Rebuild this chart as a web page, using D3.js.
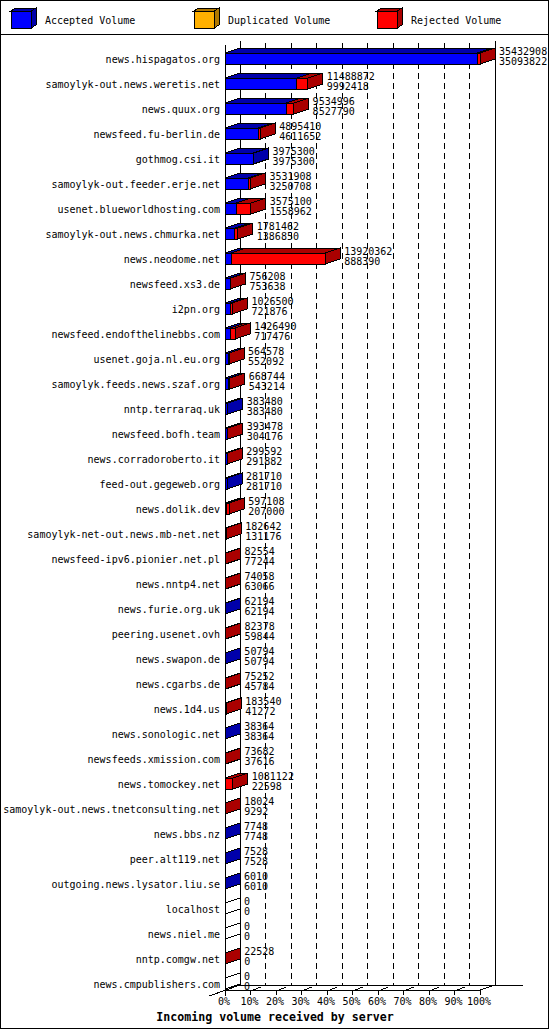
<!DOCTYPE html>
<html>
<head>
<meta charset="utf-8">
<script src="https://cdn.jsdelivr.net/npm/d3@7"></script>
<style>
  body { margin: 0; background: #fff; }
  svg { display: block; }
  text { font-family: "DejaVu Sans Mono", "Liberation Mono", monospace; font-size: 10px; fill: #000; }
</style>
</head>
<body>
<script>
// data
var hosts = [
    'news.hispagatos.org', 'samoylyk-out.news.weretis.net', 'news.quux.org',
    'newsfeed.fu-berlin.de', 'gothmog.csi.it', 'samoylyk-out.feeder.erje.net',
    'usenet.blueworldhosting.com', 'samoylyk-out.news.chmurka.net', 'news.neodome.net',
    'newsfeed.xs3.de', 'i2pn.org', 'newsfeed.endofthelinebbs.com',
    'usenet.goja.nl.eu.org', 'samoylyk.feeds.news.szaf.org', 'nntp.terraraq.uk',
    'newsfeed.bofh.team', 'news.corradoroberto.it', 'feed-out.gegeweb.org',
    'news.dolik.dev', 'samoylyk-net-out.news.mb-net.net', 'newsfeed-ipv6.pionier.net.pl',
    'news.nntp4.net', 'news.furie.org.uk', 'peering.usenet.ovh',
    'news.swapon.de', 'news.cgarbs.de', 'news.1d4.us',
    'news.sonologic.net', 'newsfeeds.xmission.com', 'news.tomockey.net',
    'samoylyk-out.news.tnetconsulting.net', 'news.bbs.nz', 'peer.alt119.net',
    'outgoing.news.lysator.liu.se', 'localhost', 'news.niel.me',
    'nntp.comgw.net', 'news.cmpublishers.com'
];
var totals = [
    35432908, 11488872, 9534996, 4895410, 3975300, 3531908, 3575100, 1781462,
    13920362, 756208, 1026500, 1426490, 564578, 668744, 383480, 393478,
    299592, 281710, 597108, 182642, 82554, 74058, 62194, 82378,
    50794, 75252, 183540, 38364, 73682, 1081122, 18024, 7748,
    7528, 6010, 0, 0, 22528, 0
];
var accepted = [
    35093822, 9992418, 8527790, 4611652, 3975300, 3250708, 1558962, 1386850,
    888390, 753638, 721876, 717476, 552092, 543214, 383480, 304176,
    291882, 281710, 207000, 131176, 77244, 63066, 62194, 59844,
    50794, 45784, 41272, 38364, 37616, 22598, 9292, 7748,
    7528, 6010, 0, 0, 0, 0
];
var duplicated = [
    0, 0, 0, 0, 0, 0, 0, 0, 0, 0, 0, 0, 0, 0, 0, 0, 0, 0, 0,
    0, 0, 0, 0, 0, 0, 0, 0, 0, 0, 0, 0, 0, 0, 0, 0, 0, 0, 0
];
var tickLabels = ['0%', '10%', '20%', '30%', '40%', '50%', '60%', '70%', '80%', '90%', '100%'];
var legendLabels = ['Accepted Volume', 'Duplicated Volume', 'Rejected Volume'];
var faceColors = ['#0000ff', '#ffb000', '#ff0000'];
var shadeColors = ['#0000aa', '#b07800', '#aa0000'];
var title = 'Incoming volume received by server';

var W = 550, H = 1030,
    DX = 15, DY = 5,
    left = 225, right = 480,
    wallTop = 41, floorBack = 985, floorFront = 990;

var svg = d3.select('body').append('svg')
    .attr('width', W)
    .attr('height', H)
    .attr('shape-rendering', 'crispEdges');

var x = d3.scaleLinear().domain([0, d3.max(totals)]).range([left, right]),
    pct = d3.scaleLinear().domain([0, tickLabels.length - 1]).range([left, right]),
    y = d3.scalePoint().domain(hosts).range([59, 984]);

function poly(pts) {
    return pts.map(function (p) { return p.join(','); }).join(' ');
}

// frame + legend separator
svg.append('rect')
    .attr('x', 0.5).attr('y', 0.5)
    .attr('width', W - 2).attr('height', H - 2)
    .attr('fill', 'none').attr('stroke', '#000');
svg.append('line')
    .attr('x1', 0).attr('x2', W - 1)
    .attr('y1', 34.5).attr('y2', 34.5)
    .attr('stroke', '#000');

// legend boxes
var leg = svg.selectAll('g.legend')
    .data(legendLabels)
    .join('g')
    .attr('class', 'legend')
    .attr('transform', function (d, i) { return 'translate(' + (11 + 183 * i) + ',0)'; });
leg.append('polygon')
    .attr('points', poly([[0, 11], [5, 8], [25, 8], [20, 11]]))
    .attr('fill', function (d, i) { return shadeColors[i]; })
    .attr('stroke', '#000');
leg.append('polygon')
    .attr('points', poly([[20, 11], [25, 8], [25, 25], [20, 28]]))
    .attr('fill', function (d, i) { return shadeColors[i]; })
    .attr('stroke', '#000');
leg.append('rect')
    .attr('x', 0).attr('y', 11)
    .attr('width', 20).attr('height', 17)
    .attr('fill', function (d, i) { return faceColors[i]; })
    .attr('stroke', '#000');
leg.append('text')
    .attr('x', 34).attr('y', 24)
    .text(function (d) { return d; });

// back wall + dashed grid
var grid = svg.append('g').attr('stroke', '#000');
grid.selectAll('line.grid')
    .data(d3.range(1, tickLabels.length - 1))
    .join('line')
    .attr('x1', function (k) { return pct(k) + DX; })
    .attr('x2', function (k) { return pct(k) + DX; })
    .attr('y1', wallTop + 2).attr('y2', floorBack)
    .attr('stroke-dasharray', '6,4');
grid.append('line')
    .attr('x1', left + DX).attr('x2', left + DX)
    .attr('y1', wallTop).attr('y2', floorBack);
grid.append('line')
    .attr('x1', right + DX).attr('x2', right + DX)
    .attr('y1', wallTop).attr('y2', floorBack);

// floor
grid.append('line')
    .attr('x1', left + DX).attr('x2', right + DX + 28)
    .attr('y1', floorBack).attr('y2', floorBack);
grid.append('line')
    .attr('x1', left).attr('x2', right)
    .attr('y1', floorFront).attr('y2', floorFront);
grid.append('line')
    .attr('x1', right).attr('y1', floorFront)
    .attr('x2', right + DX).attr('y2', floorBack);
grid.append('line')
    .attr('x1', left - 16).attr('y1', floorFront + 6)
    .attr('x2', left + DX).attr('y2', floorBack);
grid.append('line')
    .attr('x1', left).attr('x2', left)
    .attr('y1', 45).attr('y2', floorFront + 6);

// ticks along the front edge of the floor
grid.selectAll('line.tick')
    .data(d3.range(1, tickLabels.length))
    .join('line')
    .attr('x1', function (k) { return pct(k); })
    .attr('x2', function (k) { return pct(k); })
    .attr('y1', floorFront).attr('y2', floorFront + 5);
grid.selectAll('line.ftick')
    .data(d3.range(1, tickLabels.length - 1))
    .join('line')
    .attr('x1', function (k) { return pct(k) + 3; })
    .attr('y1', floorFront)
    .attr('x2', function (k) { return pct(k) + 10; })
    .attr('y2', floorFront - 3);

svg.selectAll('text.tick')
    .data(tickLabels)
    .join('text')
    .attr('x', function (d, k) { return pct(k) - 1; })
    .attr('y', 1005)
    .attr('text-anchor', 'middle')
    .text(function (d) { return d; });

// rows
var rows = hosts.map(function (h, i) {
    var vals = [accepted[i], duplicated[i], totals[i] - accepted[i] - duplicated[i]],
        segs = [], acc = 0, last = -1;
    vals.forEach(function (v, j) {
        if (v > 0) {
            segs.push({ x0: x(acc), x1: x(acc + v), k: j });
            last = j;
        }
        acc += v;
    });
    return { host: h, total: totals[i], acc: accepted[i], segs: segs, last: last };
});

var row = svg.selectAll('g.row')
    .data(rows)
    .join('g')
    .attr('class', 'row')
    .attr('transform', function (d) { return 'translate(0,' + y(d.host) + ')'; });

var barTop = -6, barBot = 5;

row.selectAll('polygon.top')
    .data(function (d) { return d.segs; })
    .join('polygon')
    .attr('points', function (s) {
        return poly([[s.x0, barTop], [s.x0 + DX, barTop - DY], [s.x1 + DX, barTop - DY], [s.x1, barTop]]);
    })
    .attr('fill', function (s) { return shadeColors[s.k]; })
    .attr('stroke', '#000');

row.selectAll('rect.front')
    .data(function (d) { return d.segs; })
    .join('rect')
    .attr('x', function (s) { return s.x0; })
    .attr('y', barTop)
    .attr('width', function (s) { return s.x1 - s.x0; })
    .attr('height', barBot - barTop)
    .attr('fill', function (s) { return faceColors[s.k]; })
    .attr('stroke', '#000');

row.append('polygon')
    .attr('points', function (d) {
        var e = x(d.total);
        return poly([[e, barTop], [e + DX, barTop - DY], [e + DX, barBot - DY], [e, barBot]]);
    })
    .attr('fill', function (d) { return d.last < 0 ? '#fff' : shadeColors[d.last]; })
    .attr('stroke', '#000');

row.append('text')
    .attr('x', 220).attr('y', 4)
    .attr('text-anchor', 'end')
    .text(function (d) { return d.host; });

row.append('text')
    .attr('x', function (d) { return x(d.total) + DX + 4; })
    .attr('y', -4.5)
    .text(function (d) { return d.total; });
row.append('text')
    .attr('x', function (d) { return x(d.total) + DX + 4; })
    .attr('y', 6)
    .text(function (d) { return d.acc; });

svg.append('text')
    .attr('x', 275).attr('y', 1021)
    .attr('text-anchor', 'middle')
    .style('font-weight', 'bold')
    .style('font-size', '11.6px')
    .text(title);
</script>
</body>
</html>
